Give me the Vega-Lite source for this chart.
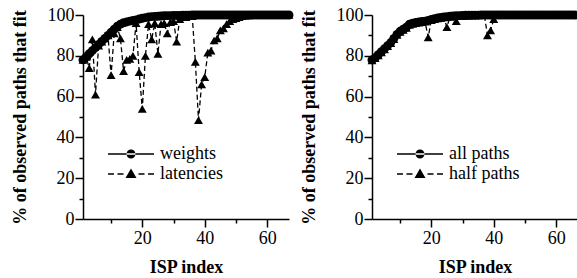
{
  "$schema": "https://vega.github.io/schema/vega-lite/v6.json",
  "padding": {"left": 11, "top": 6, "right": 0, "bottom": 0},
  "spacing": 6,
  "config": {
    "view": {"stroke": null},
    "style": {"guide-label": {"font": "Liberation Serif"}, "guide-title": {"font": "Liberation Serif"}},
    "axis": {
      "labelFontSize": 18, "labelColor": "black",
      "titleFontSize": 18, "titleFontWeight": "bold", "titleColor": "black",
      "domainColor": "black", "domainWidth": 1.5, "tickColor": "black", "tickWidth": 1.5, "grid": false
    }
  },
  "datasets": {
    "left": [
      {"series":"weights","isp":1,"value":78},{"series":"weights","isp":2,"value":79.5},{"series":"weights","isp":3,"value":81},{"series":"weights","isp":4,"value":82.5},{"series":"weights","isp":5,"value":84},{"series":"weights","isp":6,"value":85.5},{"series":"weights","isp":7,"value":87},{"series":"weights","isp":8,"value":88.5},{"series":"weights","isp":9,"value":90},{"series":"weights","isp":10,"value":91.5},
      {"series":"weights","isp":11,"value":93},{"series":"weights","isp":12,"value":94.5},{"series":"weights","isp":13,"value":95.5},{"series":"weights","isp":14,"value":96.2},{"series":"weights","isp":15,"value":96.6},{"series":"weights","isp":16,"value":97},{"series":"weights","isp":17,"value":97.3},{"series":"weights","isp":18,"value":97.6},{"series":"weights","isp":19,"value":98},{"series":"weights","isp":20,"value":98.4},
      {"series":"weights","isp":21,"value":98.7},{"series":"weights","isp":22,"value":99},{"series":"weights","isp":23,"value":99.2},{"series":"weights","isp":24,"value":99.3},{"series":"weights","isp":25,"value":99.4},{"series":"weights","isp":26,"value":99.5},{"series":"weights","isp":27,"value":99.6},{"series":"weights","isp":28,"value":99.7},{"series":"weights","isp":29,"value":99.7},{"series":"weights","isp":30,"value":99.8},
      {"series":"weights","isp":31,"value":99.8},{"series":"weights","isp":32,"value":99.8},{"series":"weights","isp":33,"value":99.9},{"series":"weights","isp":34,"value":99.9},{"series":"weights","isp":35,"value":99.9},{"series":"weights","isp":36,"value":100},{"series":"weights","isp":37,"value":100},{"series":"weights","isp":38,"value":100},{"series":"weights","isp":39,"value":100},{"series":"weights","isp":40,"value":100},
      {"series":"weights","isp":41,"value":100},{"series":"weights","isp":42,"value":100},{"series":"weights","isp":43,"value":100},{"series":"weights","isp":44,"value":100},{"series":"weights","isp":45,"value":100},{"series":"weights","isp":46,"value":100},{"series":"weights","isp":47,"value":100},{"series":"weights","isp":48,"value":100},{"series":"weights","isp":49,"value":100},{"series":"weights","isp":50,"value":100},
      {"series":"weights","isp":51,"value":100},{"series":"weights","isp":52,"value":100},{"series":"weights","isp":53,"value":100},{"series":"weights","isp":54,"value":100},{"series":"weights","isp":55,"value":100},{"series":"weights","isp":56,"value":100},{"series":"weights","isp":57,"value":100},{"series":"weights","isp":58,"value":100},{"series":"weights","isp":59,"value":100},{"series":"weights","isp":60,"value":100},
      {"series":"weights","isp":61,"value":100},{"series":"weights","isp":62,"value":100},{"series":"weights","isp":63,"value":100},{"series":"weights","isp":64,"value":100},{"series":"weights","isp":65,"value":100},{"series":"weights","isp":66,"value":100},{"series":"weights","isp":67,"value":100},
      {"series":"latencies","isp":1,"value":78},{"series":"latencies","isp":2,"value":79.5},{"series":"latencies","isp":3,"value":74},{"series":"latencies","isp":4,"value":88},{"series":"latencies","isp":5,"value":61},{"series":"latencies","isp":6,"value":85},{"series":"latencies","isp":7,"value":87},{"series":"latencies","isp":8,"value":88.5},{"series":"latencies","isp":9,"value":90},{"series":"latencies","isp":10,"value":70.5},
      {"series":"latencies","isp":11,"value":91},{"series":"latencies","isp":12,"value":94},{"series":"latencies","isp":13,"value":88.5},{"series":"latencies","isp":14,"value":72.5},{"series":"latencies","isp":15,"value":78},{"series":"latencies","isp":16,"value":78.5},{"series":"latencies","isp":17,"value":80},{"series":"latencies","isp":18,"value":96},{"series":"latencies","isp":19,"value":72},{"series":"latencies","isp":20,"value":54},
      {"series":"latencies","isp":21,"value":80},{"series":"latencies","isp":22,"value":95.5},{"series":"latencies","isp":23,"value":88},{"series":"latencies","isp":24,"value":96},{"series":"latencies","isp":25,"value":81},{"series":"latencies","isp":26,"value":95.5},{"series":"latencies","isp":27,"value":96},{"series":"latencies","isp":28,"value":91},{"series":"latencies","isp":29,"value":96.5},{"series":"latencies","isp":30,"value":97},
      {"series":"latencies","isp":31,"value":87},{"series":"latencies","isp":32,"value":98},{"series":"latencies","isp":33,"value":99},{"series":"latencies","isp":34,"value":99},{"series":"latencies","isp":35,"value":99.5},{"series":"latencies","isp":36,"value":99.5},{"series":"latencies","isp":37,"value":77},{"series":"latencies","isp":38,"value":48.5},{"series":"latencies","isp":39,"value":66},{"series":"latencies","isp":40,"value":69.5},
      {"series":"latencies","isp":41,"value":81.5},{"series":"latencies","isp":42,"value":82.5},{"series":"latencies","isp":43,"value":87.5},{"series":"latencies","isp":44,"value":88.5},{"series":"latencies","isp":45,"value":92.5},{"series":"latencies","isp":46,"value":93.5},{"series":"latencies","isp":47,"value":95.5},{"series":"latencies","isp":48,"value":97},{"series":"latencies","isp":49,"value":98},{"series":"latencies","isp":50,"value":98.5},
      {"series":"latencies","isp":51,"value":99},{"series":"latencies","isp":52,"value":99.5},{"series":"latencies","isp":53,"value":99.7},{"series":"latencies","isp":54,"value":99.8},{"series":"latencies","isp":55,"value":100},{"series":"latencies","isp":56,"value":100},{"series":"latencies","isp":57,"value":100},{"series":"latencies","isp":58,"value":100},{"series":"latencies","isp":59,"value":100},{"series":"latencies","isp":60,"value":100},
      {"series":"latencies","isp":61,"value":100},{"series":"latencies","isp":62,"value":100},{"series":"latencies","isp":63,"value":100},{"series":"latencies","isp":64,"value":100},{"series":"latencies","isp":65,"value":100},{"series":"latencies","isp":66,"value":100},{"series":"latencies","isp":67,"value":100}
    ],
    "right": [
      {"series":"all paths","isp":1,"value":78},{"series":"all paths","isp":2,"value":79},{"series":"all paths","isp":3,"value":80.5},{"series":"all paths","isp":4,"value":82},{"series":"all paths","isp":5,"value":83.5},{"series":"all paths","isp":6,"value":85},{"series":"all paths","isp":7,"value":86.5},{"series":"all paths","isp":8,"value":88.5},{"series":"all paths","isp":9,"value":90.5},{"series":"all paths","isp":10,"value":92},
      {"series":"all paths","isp":11,"value":93},{"series":"all paths","isp":12,"value":94},{"series":"all paths","isp":13,"value":95.5},{"series":"all paths","isp":14,"value":96},{"series":"all paths","isp":15,"value":96.3},{"series":"all paths","isp":16,"value":96.6},{"series":"all paths","isp":17,"value":96.8},{"series":"all paths","isp":18,"value":97},{"series":"all paths","isp":19,"value":97.3},{"series":"all paths","isp":20,"value":97.8},
      {"series":"all paths","isp":21,"value":98.2},{"series":"all paths","isp":22,"value":98.5},{"series":"all paths","isp":23,"value":98.8},{"series":"all paths","isp":24,"value":99},{"series":"all paths","isp":25,"value":99.2},{"series":"all paths","isp":26,"value":99.4},{"series":"all paths","isp":27,"value":99.5},{"series":"all paths","isp":28,"value":99.6},{"series":"all paths","isp":29,"value":99.7},{"series":"all paths","isp":30,"value":99.8},
      {"series":"all paths","isp":31,"value":99.9},{"series":"all paths","isp":32,"value":99.9},{"series":"all paths","isp":33,"value":99.9},{"series":"all paths","isp":34,"value":99.9},{"series":"all paths","isp":35,"value":99.9},{"series":"all paths","isp":36,"value":100},{"series":"all paths","isp":37,"value":100},{"series":"all paths","isp":38,"value":100},{"series":"all paths","isp":39,"value":100},{"series":"all paths","isp":40,"value":100},
      {"series":"all paths","isp":41,"value":100},{"series":"all paths","isp":42,"value":100},{"series":"all paths","isp":43,"value":100},{"series":"all paths","isp":44,"value":100},{"series":"all paths","isp":45,"value":100},{"series":"all paths","isp":46,"value":100},{"series":"all paths","isp":47,"value":100},{"series":"all paths","isp":48,"value":100},{"series":"all paths","isp":49,"value":100},{"series":"all paths","isp":50,"value":100},
      {"series":"all paths","isp":51,"value":100},{"series":"all paths","isp":52,"value":100},{"series":"all paths","isp":53,"value":100},{"series":"all paths","isp":54,"value":100},{"series":"all paths","isp":55,"value":100},{"series":"all paths","isp":56,"value":100},{"series":"all paths","isp":57,"value":100},{"series":"all paths","isp":58,"value":100},{"series":"all paths","isp":59,"value":100},{"series":"all paths","isp":60,"value":100},
      {"series":"all paths","isp":61,"value":100},{"series":"all paths","isp":62,"value":100},{"series":"all paths","isp":63,"value":100},{"series":"all paths","isp":64,"value":100},{"series":"all paths","isp":65,"value":100},{"series":"all paths","isp":66,"value":100},{"series":"all paths","isp":67,"value":100},
      {"series":"half paths","isp":1,"value":77.8},{"series":"half paths","isp":2,"value":78.8},{"series":"half paths","isp":3,"value":80.2},{"series":"half paths","isp":4,"value":81.7},{"series":"half paths","isp":5,"value":83.2},{"series":"half paths","isp":6,"value":84.7},{"series":"half paths","isp":7,"value":86.2},{"series":"half paths","isp":8,"value":88.2},{"series":"half paths","isp":9,"value":90.2},{"series":"half paths","isp":10,"value":91.7},
      {"series":"half paths","isp":11,"value":92.7},{"series":"half paths","isp":12,"value":93.7},{"series":"half paths","isp":13,"value":95.2},{"series":"half paths","isp":14,"value":95.7},{"series":"half paths","isp":15,"value":96},{"series":"half paths","isp":16,"value":96.3},{"series":"half paths","isp":17,"value":96.5},{"series":"half paths","isp":18,"value":96.7},{"series":"half paths","isp":19,"value":89},{"series":"half paths","isp":20,"value":97.5},
      {"series":"half paths","isp":21,"value":98},{"series":"half paths","isp":22,"value":98.3},{"series":"half paths","isp":23,"value":98.6},{"series":"half paths","isp":24,"value":98.8},{"series":"half paths","isp":25,"value":94},{"series":"half paths","isp":26,"value":99.2},{"series":"half paths","isp":27,"value":99.3},{"series":"half paths","isp":28,"value":97},{"series":"half paths","isp":29,"value":99.5},{"series":"half paths","isp":30,"value":99.6},
      {"series":"half paths","isp":31,"value":99.7},{"series":"half paths","isp":32,"value":99.7},{"series":"half paths","isp":33,"value":99.8},{"series":"half paths","isp":34,"value":99.8},{"series":"half paths","isp":35,"value":99.8},{"series":"half paths","isp":36,"value":99.9},{"series":"half paths","isp":37,"value":99.9},{"series":"half paths","isp":38,"value":90},{"series":"half paths","isp":39,"value":92.5},{"series":"half paths","isp":40,"value":98},
      {"series":"half paths","isp":41,"value":99.9},{"series":"half paths","isp":42,"value":99.9},{"series":"half paths","isp":43,"value":99.9},{"series":"half paths","isp":44,"value":99.9},{"series":"half paths","isp":45,"value":100},{"series":"half paths","isp":46,"value":100},{"series":"half paths","isp":47,"value":100},{"series":"half paths","isp":48,"value":100},{"series":"half paths","isp":49,"value":100},{"series":"half paths","isp":50,"value":100},
      {"series":"half paths","isp":51,"value":100},{"series":"half paths","isp":52,"value":100},{"series":"half paths","isp":53,"value":100},{"series":"half paths","isp":54,"value":100},{"series":"half paths","isp":55,"value":100},{"series":"half paths","isp":56,"value":100},{"series":"half paths","isp":57,"value":100},{"series":"half paths","isp":58,"value":100},{"series":"half paths","isp":59,"value":100},{"series":"half paths","isp":60,"value":100},
      {"series":"half paths","isp":61,"value":100},{"series":"half paths","isp":62,"value":100},{"series":"half paths","isp":63,"value":100},{"series":"half paths","isp":64,"value":100},{"series":"half paths","isp":65,"value":100},{"series":"half paths","isp":66,"value":100},{"series":"half paths","isp":67,"value":100}
    ]
  },
  "hconcat": [
    {
      "width": 206, "height": 204,
      "data": {"name": "left"},
      "encoding": {
        "x": {"field": "isp", "type": "quantitative", "title": "ISP index", "scale": {"domain": [1, 67], "nice": false, "zero": false},
          "axis": {"labelFont": "Liberation Serif", "titleFont": "Liberation Serif", "values": [10, 20, 30, 40, 50, 60], "labelExpr": "datum.value % 20 == 0 ? datum.label : ''", "tickSize": {"condition": {"test": "datum.value % 20 == 0", "value": 8}, "value": 4}, "labelPadding": 2, "titlePadding": 11}},
        "y": {"field": "value", "type": "quantitative", "title": "% of observed paths that fit", "scale": {"domain": [0, 100], "nice": false},
          "axis": {"labelFont": "Liberation Serif", "titleFont": "Liberation Serif", "values": [0, 10, 20, 30, 40, 50, 60, 70, 80, 90, 100], "labelExpr": "datum.value % 20 == 0 ? datum.label : ''", "tickSize": {"condition": {"test": "datum.value % 20 == 0", "value": 8}, "value": 4}, "labelPadding": 1, "titlePadding": 18}}
      },
      "layer": [
        {"mark": {"type": "line", "color": "black", "strokeWidth": 1.3},
         "encoding": {"strokeDash": {"field": "series", "type": "nominal", "scale": {"domain": ["weights", "latencies"], "range": [[1, 0], [5, 3]]}, "legend": null}}},
        {"mark": {"type": "point", "filled": true, "color": "black", "opacity": 1, "size": 80},
         "encoding": {"shape": {"field": "series", "type": "nominal", "scale": {"domain": ["weights", "latencies"], "range": ["circle", "triangle-up"]}, "legend": null}}},
        {"transform": [{"filter": "false"}],
         "mark": {"type": "point", "filled": true, "color": "black", "opacity": 1},
         "encoding": {"shape": {"field": "series", "type": "nominal",
           "scale": {"domain": ["weights", "latencies"], "range": ["M-4.6,-0.15L4.6,-0.15L4.6,0.15L-4.6,0.15ZM-0.9,0A0.9,0.9,0,1,0,0.9,0A0.9,0.9,0,1,0,-0.9,0Z", "M-4.6,-0.15L-3.4,-0.15L-3.4,0.15L-4.6,0.15ZM-2.7,-0.15L-1.5,-0.15L-1.5,0.15L-2.7,0.15ZM1.5,-0.15L2.7,-0.15L2.7,0.15L1.5,0.15ZM3.4,-0.15L4.6,-0.15L4.6,0.15L3.4,0.15ZM-1.1,0.8L0,-1.1L1.1,0.8Z"]},
           "legend": {"orient": "none", "legendX": 39, "legendY": 130, "title": null, "symbolSize": 100, "symbolStrokeWidth": 0, "symbolFillColor": "black", "symbolStrokeColor": "black", "symbolOpacity": 1, "labelFont": "Liberation Serif", "labelFontSize": 18, "labelColor": "black", "labelOffset": 20, "rowPadding": 2, "padding": 0}}}}
      ],
      "resolve": {"scale": {"shape": "independent"}}
    },
    {
      "width": 206, "height": 204,
      "data": {"name": "right"},
      "encoding": {
        "x": {"field": "isp", "type": "quantitative", "title": "ISP index", "scale": {"domain": [1, 67], "nice": false, "zero": false},
          "axis": {"labelFont": "Liberation Serif", "titleFont": "Liberation Serif", "values": [10, 20, 30, 40, 50, 60], "labelExpr": "datum.value % 20 == 0 ? datum.label : ''", "tickSize": {"condition": {"test": "datum.value % 20 == 0", "value": 8}, "value": 4}, "labelPadding": 2, "titlePadding": 11}},
        "y": {"field": "value", "type": "quantitative", "title": "% of observed paths that fit", "scale": {"domain": [0, 100], "nice": false},
          "axis": {"labelFont": "Liberation Serif", "titleFont": "Liberation Serif", "values": [0, 10, 20, 30, 40, 50, 60, 70, 80, 90, 100], "labelExpr": "datum.value % 20 == 0 ? datum.label : ''", "tickSize": {"condition": {"test": "datum.value % 20 == 0", "value": 8}, "value": 4}, "labelPadding": 1, "titlePadding": 18}}
      },
      "layer": [
        {"mark": {"type": "line", "color": "black", "strokeWidth": 1.3},
         "encoding": {"strokeDash": {"field": "series", "type": "nominal", "scale": {"domain": ["all paths", "half paths"], "range": [[1, 0], [5, 3]]}, "legend": null}}},
        {"mark": {"type": "point", "filled": true, "color": "black", "opacity": 1, "size": 80},
         "encoding": {"shape": {"field": "series", "type": "nominal", "scale": {"domain": ["all paths", "half paths"], "range": ["circle", "triangle-up"]}, "legend": null}}},
        {"transform": [{"filter": "false"}],
         "mark": {"type": "point", "filled": true, "color": "black", "opacity": 1},
         "encoding": {"shape": {"field": "series", "type": "nominal",
           "scale": {"domain": ["all paths", "half paths"], "range": ["M-4.6,-0.15L4.6,-0.15L4.6,0.15L-4.6,0.15ZM-0.9,0A0.9,0.9,0,1,0,0.9,0A0.9,0.9,0,1,0,-0.9,0Z", "M-4.6,-0.15L-3.4,-0.15L-3.4,0.15L-4.6,0.15ZM-2.7,-0.15L-1.5,-0.15L-1.5,0.15L-2.7,0.15ZM1.5,-0.15L2.7,-0.15L2.7,0.15L1.5,0.15ZM3.4,-0.15L4.6,-0.15L4.6,0.15L3.4,0.15ZM-1.1,0.8L0,-1.1L1.1,0.8Z"]},
           "legend": {"orient": "none", "legendX": 39, "legendY": 130, "title": null, "symbolSize": 100, "symbolStrokeWidth": 0, "symbolFillColor": "black", "symbolStrokeColor": "black", "symbolOpacity": 1, "labelFont": "Liberation Serif", "labelFontSize": 18, "labelColor": "black", "labelOffset": 20, "rowPadding": 2, "padding": 0}}}}
      ],
      "resolve": {"scale": {"shape": "independent"}}
    }
  ]
}
